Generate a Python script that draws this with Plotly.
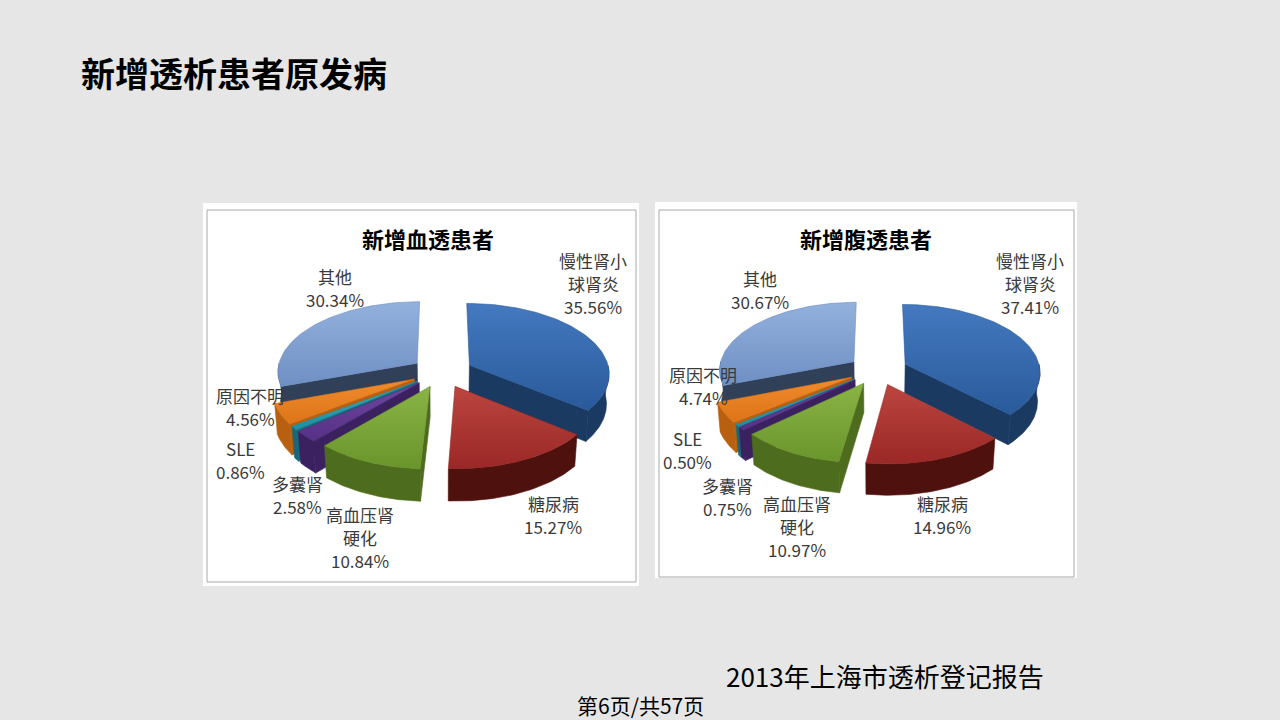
import numpy as np
import plotly.graph_objects as go

# 新增透析患者原发病 (2013年上海市透析登记报告)
categories = ["慢性肾小球肾炎", "糖尿病", "高血压肾硬化", "多囊肾", "SLE", "原因不明", "其他"]
label_lines = [["慢性肾小", "球肾炎"], ["糖尿病"], ["高血压肾", "硬化"], ["多囊肾"], ["SLE"], ["原因不明"], ["其他"]]
hd_values = [35.56, 15.27, 10.84, 2.58, 0.86, 4.56, 30.34]   # 新增血透患者 %
pd_values = [37.41, 14.96, 10.97, 0.75, 0.50, 4.74, 30.67]   # 新增腹透患者 %

# slice colours: top light, top dark, side
top_hi = ["#4479C0", "#BC453F", "#8AB445", "#7048A0", "#38B0C4", "#F08C2C", "#93B1DC"]
top_lo = ["#295A9A", "#9A2826", "#6A952C", "#563085", "#1F8EA2", "#DD7418", "#6F8FC4"]
side_c = ["#1B3A62", "#4E110E", "#4D6C1D", "#3C2160", "#17697A", "#B8600F", "#2F4058"]

# label anchor (centre x, first line y) in slide pixels, one per category
hd_lab = [(593, 260), (553, 503), (360, 514), (297, 483), (240, 448), (250, 395), (335, 276)]
pd_lab = [(1030, 260), (942, 503), (797, 503), (727, 485), (687, 438), (703, 374), (760, 278)]
LINE_GAP = 23

ELEV = np.radians(30)
DIST = 8.0
DEPTH = 0.25
EXPLODE = 0.22


def proj(X, Y, z, cx, cy, s):
    yc = Y * np.sin(ELEV) + z * np.cos(ELEV)
    d = DIST + Y * np.cos(ELEV) - z * np.sin(ELEV)
    k = s * DIST / d
    return cx + k * X, cy - k * yc


def poly(xs, ys, color, grad=None):
    tr = dict(x=list(xs) + [xs[0]], y=list(ys) + [ys[0]], mode="lines", fill="toself",
              fillcolor=color, line=dict(color=color, width=0.6),
              hoverinfo="skip", showlegend=False)
    if grad is not None:
        tr["fillgradient"] = dict(type="vertical", colorscale=[[0, grad[1]], [1, grad[0]]])
    return go.Scatter(**tr)


def pie3d(values, cx, cy, s):
    traces = []
    total = sum(values)
    cum = np.concatenate([[0], np.cumsum(values)]) / total
    slices = []
    for i in range(len(values)):
        a0 = np.radians(90 - cum[i + 1] * 360)
        a1 = np.radians(90 - cum[i] * 360)
        m = (a0 + a1) / 2
        slices.append((np.sin(m), i, a0, a1, m))
    slices.sort(reverse=True)
    for _, i, a0, a1, m in slices:
        ox, oy = EXPLODE * np.cos(m), EXPLODE * np.sin(m)
        def P(t, z, r=1.0):
            return proj(ox + r * np.cos(t), oy + r * np.sin(t), z, cx, cy, s)
        ctx, cty = proj(ox, oy, 0, cx, cy, s)
        cbx, cby = proj(ox, oy, -DEPTH, cx, cy, s)
        # cut faces
        for a, vis in ((a0, np.cos(a0) > 0.01), (a1, np.cos(a1) < -0.01)):
            if vis:
                ex, ey = P(a, 0)
                bx, by = P(a, -DEPTH)
                traces.append(poly([ctx, ex, bx, cbx], [cty, ey, by, cby], side_c[i]))
        # outer wall (front half only)
        lo, hi = max(a0, -np.pi), min(a1, 0.0)
        if hi > lo:
            t = np.linspace(lo, hi, 60)
            tx, ty = P(t, 0)
            bx, by = P(t[::-1], -DEPTH)
            traces.append(poly(np.concatenate([tx, bx]), np.concatenate([ty, by]), side_c[i]))
        # top face
        t = np.linspace(a0, a1, 80)
        tx, ty = P(t, 0)
        traces.append(poly(np.concatenate([[ctx], tx]), np.concatenate([[cty], ty]),
                           top_lo[i], grad=(top_hi[i], top_lo[i])))
    return traces


def labels(values, pos, font_size=17):
    out = []
    for lines, v, (x, y) in zip(label_lines, values, pos):
        for j, line in enumerate(lines + [f"{v:.2f}%"]):
            out.append(dict(x=x, y=y + j * LINE_GAP, xref="x", yref="y", showarrow=False,
                            text=line, borderpad=0,
                            font=dict(size=font_size, color="#3A3A3A",
                                      family="Noto Sans CJK SC")))
    return out


fig = go.Figure()
for tr in pie3d(hd_values, 442, 372, 140):
    fig.add_trace(tr)
for tr in pie3d(pd_values, 878, 370, 135):
    fig.add_trace(tr)

shapes = [
    dict(type="rect", x0=203, x1=639, y0=203, y1=586, fillcolor="white", line_width=0, layer="below"),
    dict(type="rect", x0=207, x1=636, y0=210, y1=582, line=dict(color="#A8A8A8", width=1), layer="below"),
    dict(type="rect", x0=655, x1=1077, y0=202, y1=578, fillcolor="white", line_width=0, layer="below"),
    dict(type="rect", x0=659, x1=1074, y0=210, y1=577, line=dict(color="#A8A8A8", width=1), layer="below"),
]

ann = labels(hd_values, hd_lab) + labels(pd_values, pd_lab)
ann += [
    dict(x=79, y=72, xref="x", yref="y", xanchor="left", showarrow=False,
         text="<b>新增透析患者原发病</b>", font=dict(size=34, color="black", family="Noto Sans CJK SC")),
    dict(x=428, y=238, xref="x", yref="y", showarrow=False,
         text="<b>新增血透患者</b>", font=dict(size=22, color="black", family="Noto Sans CJK SC")),
    dict(x=866, y=238, xref="x", yref="y", showarrow=False,
         text="<b>新增腹透患者</b>", font=dict(size=22, color="black", family="Noto Sans CJK SC")),
    dict(x=885, y=675, xref="x", yref="y", showarrow=False,
         text="2013年上海市透析登记报告", font=dict(size=26, color="black", family="Noto Sans CJK SC")),
    dict(x=640, y=705, xref="x", yref="y", showarrow=False,
         text="第6页/共57页", font=dict(size=21, color="black", family="Noto Sans CJK SC")),
]

fig.update_layout(
    width=1280, height=720,
    margin=dict(l=0, r=0, t=0, b=0),
    paper_bgcolor="#E6E6E6", plot_bgcolor="#E6E6E6",
    xaxis=dict(range=[0, 1280], visible=False, fixedrange=True),
    yaxis=dict(range=[720, 0], visible=False, fixedrange=True),
    shapes=shapes, annotations=ann, showlegend=False,
)
fig.write_html("out.html", config={"displayModeBar": False},
               post_script="document.body.style.margin='0px';")
